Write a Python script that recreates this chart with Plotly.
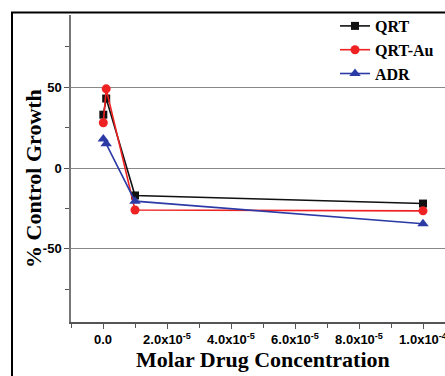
import plotly.graph_objects as go

# Data
conc = [1e-7, 1e-6, 1e-5, 1e-4]
qrt = [33, 43, -17, -22]
qrt_au = [28, 49, -26, -26.5]
adr = [18, 15, -20.5, -34.5]

x_tickvals = [0, 2e-5, 4e-5, 6e-5, 8e-5, 1e-4]
x_ticktext = ["0.0", "2.0x10<sup>-5</sup>", "4.0x10<sup>-5</sup>", "6.0x10<sup>-5</sup>",
              "8.0x10<sup>-5</sup>", "1.0x10<sup>-4</sup>"]
y_tickvals = [-50, 0, 50]
y_ticktext = ["-50", "0", "50"]

W, H = 445, 376
L, R, T, B = 71, 0, 15, 54
pw, ph = W - L - R, H - T - B

def px(x):
    return (x - L) / pw

def py(y):
    return (H - B - y) / ph

fig = go.Figure()
series = [
    ("QRT", qrt, "#111111", "square", 8),
    ("QRT-Au", qrt_au, "#ee2222", "circle", 9),
    ("ADR", adr, "#2c3aa6", "triangle-up", 10),
]
for name, vals, col, sym, sz in series:
    fig.add_trace(go.Scatter(
        x=conc, y=vals, name=name, mode="lines+markers",
        line=dict(color=col, width=1.6),
        marker=dict(color=col, symbol=sym, size=sz),
    ))

x0 = -1e-5
x1 = 1e-4 + (W - 423) / 64 * 2e-5

fig.update_layout(
    width=W, height=H,
    margin=dict(l=L, r=R, t=T, b=B, autoexpand=False),
    paper_bgcolor="white", plot_bgcolor="white",
    showlegend=True,
    legend=dict(x=px(335), y=py(9), xanchor="left", yanchor="top",
                bgcolor="rgba(0,0,0,0)",
                font=dict(family="Liberation Serif", size=16, color="black", weight="bold"),
                tracegroupgap=0, itemwidth=30),
    xaxis=dict(range=[x0, x1], tickvals=x_tickvals, ticktext=x_ticktext,
               ticks="outside", ticklen=5, tickcolor="#555", tickwidth=1.2,
               showline=True, linecolor="#555", linewidth=1.5,
               showgrid=False, zeroline=False, automargin=False,
               ticklabeloverflow="allow",
               tickfont=dict(family="Liberation Sans", size=13, color="black", weight="bold"),
               minor=dict(ticks="outside", ticklen=4, dtick=1e-5, tick0=0, tickcolor="#555", showgrid=False)),
    yaxis=dict(range=[-95.3, 94.7], tickvals=y_tickvals, ticktext=y_ticktext,
               ticks="outside", ticklen=5, tickcolor="#555", tickwidth=1.2,
               showline=True, linecolor="#777", linewidth=1.5,
               showgrid=True, gridcolor="#888", gridwidth=1, zeroline=False, automargin=False,
               tickfont=dict(family="Liberation Sans", size=13, color="black", weight="bold"),
               minor=dict(ticks="outside", ticklen=4, dtick=25, tick0=0, tickcolor="#555", showgrid=False)),
    annotations=[
        dict(text="% Control Growth", xref="paper", yref="paper", x=px(33), y=py(179),
             textangle=-90, showarrow=False, xanchor="center", yanchor="middle",
             font=dict(family="Liberation Serif", size=22, color="black", weight="bold")),
        dict(text="Molar Drug Concentration", xref="paper", yref="paper", x=px(263), y=py(359),
             showarrow=False, xanchor="center", yanchor="middle",
             font=dict(family="Liberation Serif", size=22, color="black", weight="bold")),
    ],
    shapes=[
        dict(type="line", xref="paper", yref="paper", x0=px(12), x1=px(12), y0=py(12.5), y1=py(400),
             line=dict(color="black", width=2)),
        dict(type="line", xref="paper", yref="paper", x0=px(11), x1=px(460), y0=py(12.5), y1=py(12.5),
             line=dict(color="black", width=2)),
    ],
)

fig.write_html("out.html", config={"displayModeBar": False},
               post_script="document.body.style.margin='0';")
